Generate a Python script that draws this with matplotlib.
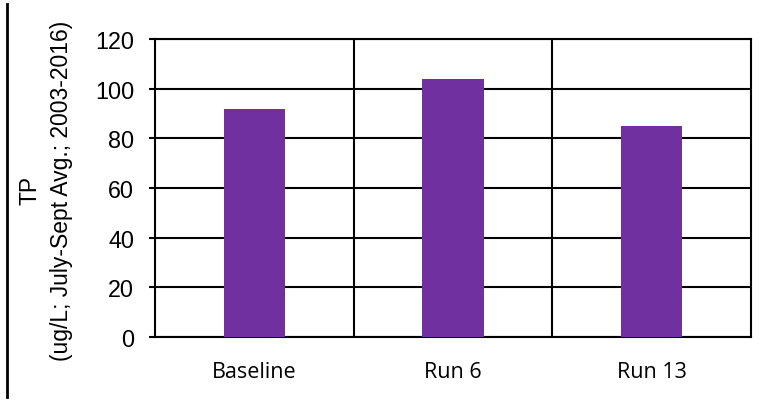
import matplotlib.pyplot as plt
from matplotlib.lines import Line2D
import numpy as np

categories = ["Baseline", "Run 6", "Run 13"]
tp_values = [92, 104, 85]
y_ticks = [0, 20, 40, 60, 80, 100, 120]

BAR_COLOR = "#7030A0"

fig = plt.figure(figsize=(7.66, 4.02), dpi=100)
W, H = 766, 402
ax = fig.add_axes([155 / W, 1 - 338 / H, (751 - 155) / W, (338 - 40) / H])

x = np.arange(len(categories))
ax.bar(x, tp_values, width=0.31, color=BAR_COLOR, zorder=3)

ax.set_xlim(-0.5, len(categories) - 0.5)
ax.set_ylim(0, 120)
ax.set_yticks(y_ticks)
ax.set_yticklabels([str(v) for v in y_ticks], fontsize=16.8, family="Liberation Sans")
ax.set_xticks(x)
ax.set_xticklabels(categories, fontsize=15.5, family="Open Sans")
ax.tick_params(axis="x", length=0, pad=17)
ax.tick_params(axis="y", length=4, width=1.5, pad=11)

# horizontal grid plus dividers between categories
ax.grid(axis="y", color="black", linewidth=1.5, zorder=1)
for xd in x[:-1] + 0.5:
    ax.axvline(xd, color="black", linewidth=1.5, zorder=1)
for spine in ax.spines.values():
    spine.set_color("black")
    spine.set_linewidth(1.5)

# two-line axis title, each line placed on its own
fig.text(30 / W, 1 - 190 / H, "TP", rotation=90, ha="center", va="center",
         fontsize=16.5, family="Liberation Sans")
fig.text(62 / W, 1 - 191 / H, "(ug/L; July-Sept Avg.; 2003-2016)", rotation=90,
         ha="center", va="center", fontsize=16.5, family="Liberation Sans")

fig.add_artist(Line2D([7 / W, 7 / W], [1 - 398 / H, 1 - 5 / H],
                      transform=fig.transFigure, color="black", linewidth=2))

fig.savefig("out.png", dpi=100)
